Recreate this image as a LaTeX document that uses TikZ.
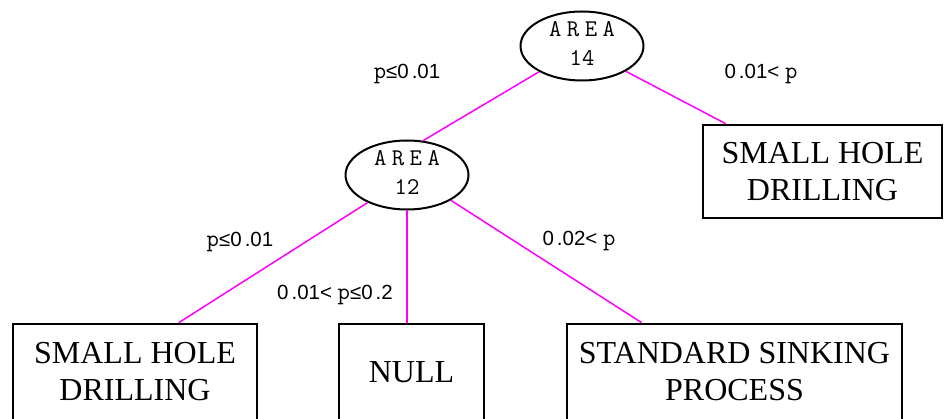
\documentclass[tikz,border=0pt]{standalone}
\usepackage{fontspec}
\setmainfont{Liberation Serif}
\setsansfont{Liberation Sans}
\usetikzlibrary{shapes.geometric}
\definecolor{mag}{RGB}{255,0,255}
\newcommand{\pp}{{\ttfamily\fontsize{24}{24}\selectfont p}}
\newcommand{\dgap}{\hspace{3pt}}
\begin{document}
\begin{tikzpicture}[x=1pt,y=-1pt,
  area/.style={ellipse,draw,line width=2pt,minimum width=123pt,minimum height=69pt,inner sep=0pt,align=center,text depth=4pt,font=\ttfamily\fontsize{24}{29}\selectfont},
  leaf/.style={draw,line width=2.6pt,inner sep=0pt,align=center,font=\fontsize{32}{37}\selectfont},
  cond/.style={inner sep=0pt,font=\sffamily\fontsize{20.5}{22}\selectfont},
  conn/.style={mag,line width=1.5pt}]
\useasboundingbox (0,0) rectangle (944,419);
\clip (0,0) rectangle (944,419);
\node[area] (a14) at (582,46) {A\hspace{5.5pt}R\hspace{5.5pt}E\hspace{5.5pt}A\\14};
\node[area] (a12) at (407,175) {A\hspace{5.5pt}R\hspace{5.5pt}E\hspace{5.5pt}A\\12};
\node[leaf,minimum width=239pt,minimum height=93pt] (rb) at (822.5,171.5) {SMALL HOLE\\DRILLING};
\node[leaf,minimum width=244pt,minimum height=96pt] (b1) at (135,372) {SMALL HOLE\\DRILLING};
\node[leaf,minimum width=145pt,minimum height=96pt] (b2) at (411.5,372) {NULL};
\node[leaf,minimum width=335pt,minimum height=96pt] (b3) at (734.5,372) {STANDARD SINKING\\PROCESS};
\draw[conn] (a14.211) -- (a12.65);
\draw[conn] (a14.330) -- ([xshift=24pt]rb.north west);
\draw[conn] (a12.215) -- ([xshift=167pt]b1.north west);
\draw[conn] (a12.south) -- (a12.south |- b2.north);
\draw[conn] (a12.330) -- ([xshift=76pt]b3.north west);
\node[cond] (l1) at (407,74) {\pp≤0\dgap.01};
\node[cond] (l2) at (761,74) {0\dgap.01< \pp};
\node[cond] (l3) at (240,242) {\pp≤0\dgap.01};
\node[cond] (l4) at (335,295) {0\dgap.01< \pp≤0\dgap.2};
\node[cond] (l5) at (579,241) {0\dgap.02< \pp};
\end{tikzpicture}
\end{document}
